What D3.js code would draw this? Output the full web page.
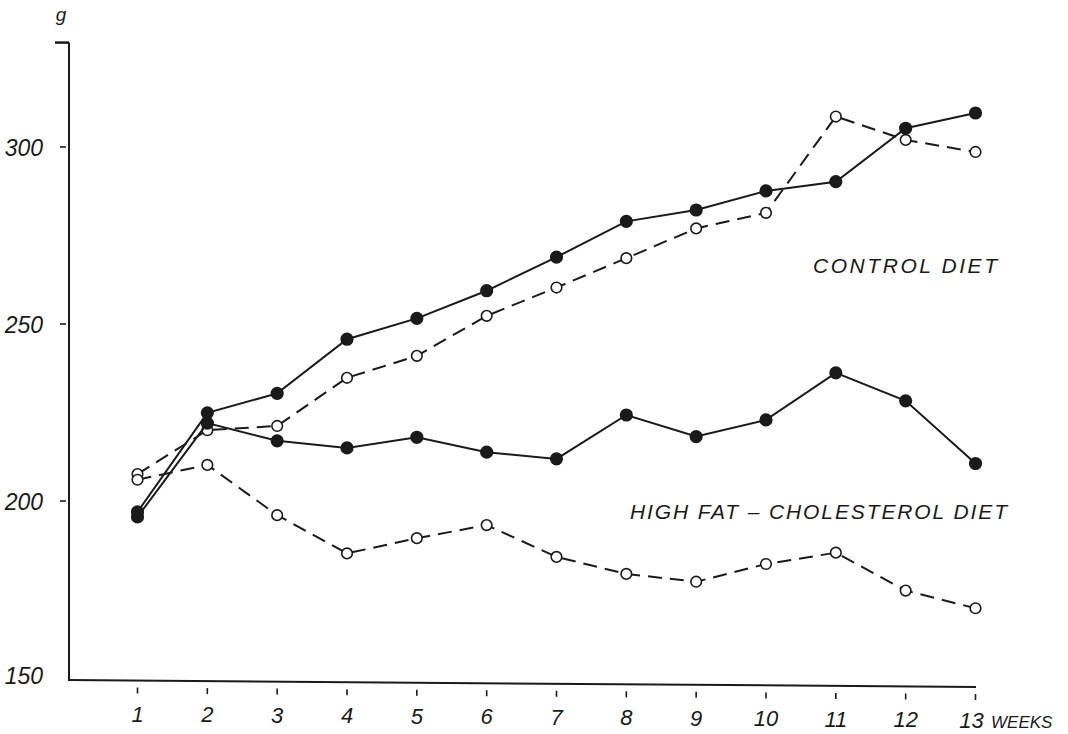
<!DOCTYPE html>
<html>
<head>
<meta charset="utf-8">
<script src="https://cdn.jsdelivr.net/npm/d3@7"></script>
<style>
  body { margin: 0; background: #fff; }
  text { font-family: "Liberation Sans", Arial, sans-serif; font-style: italic; fill: #1a1a1a; }
</style>
</head>
<body>
<script>
// body weight (g) by week
var weeks = [1, 2, 3, 4, 5, 6, 7, 8, 9, 10, 11, 12, 13];

var controlFilled = [196.9, 224.9, 230.4, 245.7, 251.6, 259.4, 268.9, 279, 282.2, 287.6, 290.2, 305.3, 309.6];
var controlOpen   = [207.6, 220, 221.2, 234.8, 241, 252.3, 260.3, 268.6, 277, 281.4, 308.6, 302, 298.6];
var hfFilled      = [195.5, 222, 217, 215, 218, 213.8, 211.9, 224.3, 218.2, 222.9, 236.2, 228.3, 210.6];
var hfOpen        = [206, 210.2, 196, 185.2, 189.5, 193.2, 184.2, 179.4, 177.2, 182.2, 185.4, 174.7, 169.7];

var yTicks = [150, 200, 250, 300];

var width = 1068,
    height = 734;

var svg = d3.select("body").append("svg")
    .attr("width", width)
    .attr("height", height);

var x = d3.scaleLinear().domain([1, 13]).range([137.5, 975.5]);
var y = d3.scaleLinear().domain([150, 300]).range([678, 147]);

var ink = "#1a1a1a";

// y axis
svg.append("line")
    .attr("x1", 69).attr("x2", 69)
    .attr("y1", y(329.5)).attr("y2", 681)
    .attr("stroke", ink).attr("stroke-width", 2);

svg.append("line")
    .attr("x1", 55).attr("x2", 69)
    .attr("y1", y(329.5)).attr("y2", y(329.5))
    .attr("stroke", ink).attr("stroke-width", 2.5);

svg.append("text")
    .attr("x", 61).attr("y", 21)
    .attr("text-anchor", "middle")
    .style("font-size", "19px")
    .text("g");

svg.selectAll(".ytick")
    .data(yTicks.filter(function(d){ return d > 150; }))
  .enter().append("line")
    .attr("class", "ytick")
    .attr("x1", 60).attr("x2", 66)
    .attr("y1", function(d){ return y(d); })
    .attr("y2", function(d){ return y(d); })
    .attr("stroke", ink).attr("stroke-width", 1.6);

svg.selectAll(".ylabel")
    .data(yTicks)
  .enter().append("text")
    .attr("class", "ylabel")
    .attr("x", 43)
    .attr("y", function(d){ return y(d) + (d === 150 ? 6 : 9); })
    .attr("text-anchor", "end")
    .style("font-size", "23px")
    .text(function(d){ return d; });

// x axis (scan is slightly tilted)
function axisY(px) { return 680 + (px - 69) * 7 / 907; }

svg.append("line")
    .attr("x1", 69).attr("x2", 976)
    .attr("y1", axisY(69)).attr("y2", axisY(976))
    .attr("stroke", ink).attr("stroke-width", 2);

svg.selectAll(".xtick")
    .data(weeks)
  .enter().append("line")
    .attr("class", "xtick")
    .attr("x1", function(d){ return x(d); })
    .attr("x2", function(d){ return x(d); })
    .attr("y1", function(d){ return axisY(x(d)) + 7; })
    .attr("y2", function(d){ return axisY(x(d)) + 13; })
    .attr("stroke", ink).attr("stroke-width", 1.6);

svg.selectAll(".xlabel")
    .data(weeks)
  .enter().append("text")
    .attr("class", "xlabel")
    .attr("x", function(d){ return x(d) - (d === 13 ? 4 : 0); })
    .attr("y", function(d){ return axisY(x(d)) + 41; })
    .attr("text-anchor", "middle")
    .style("font-size", "22px")
    .text(function(d){ return d; });

svg.append("text")
    .attr("x", 991).attr("y", axisY(976) + 41)
    .style("font-size", "17px")
    .text("WEEKS");

// series
var series = [
  { values: controlOpen, filled: false },
  { values: hfOpen, filled: false },
  { values: hfFilled, filled: true },
  { values: controlFilled, filled: true }
];

var line = d3.line()
    .x(function(d, i){ return x(weeks[i]); })
    .y(function(d){ return y(d); });

series.forEach(function(s) {
  svg.append("path")
      .datum(s.values)
      .attr("d", line)
      .attr("fill", "none")
      .attr("stroke", ink)
      .attr("stroke-width", 2)
      .attr("stroke-dasharray", s.filled ? null : "14,8");

  svg.selectAll(null)
      .data(s.values)
    .enter().append("circle")
      .attr("cx", function(d, i){ return x(weeks[i]); })
      .attr("cy", function(d){ return y(d); })
      .attr("r", s.filled ? 5.8 : 5.3)
      .attr("fill", s.filled ? ink : "#fff")
      .attr("stroke", ink)
      .attr("stroke-width", 1.6);
});

// labels
svg.append("text")
    .attr("x", 813).attr("y", 273)
    .style("font-size", "21px")
    .attr("textLength", 184)
    .text("CONTROL  DIET");

svg.append("text")
    .attr("x", 630).attr("y", 519)
    .style("font-size", "21px")
    .attr("textLength", 377)
    .text("HIGH  FAT – CHOLESTEROL  DIET");
</script>
</body>
</html>
